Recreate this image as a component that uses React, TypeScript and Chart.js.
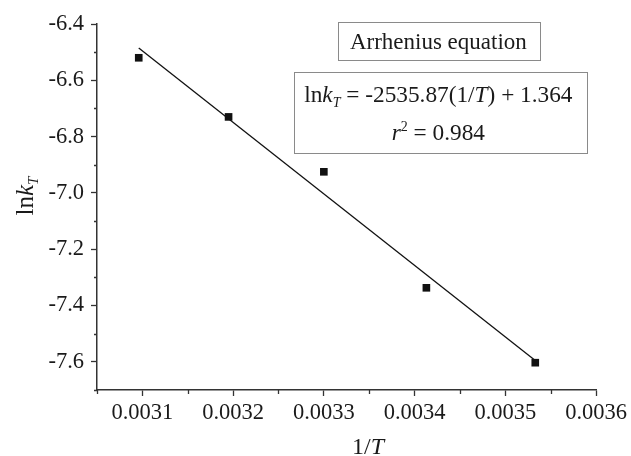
import React, { useEffect, useRef } from "react";
import { Chart, registerables } from "chart.js";

Chart.register(...registerables);

// ---- data ----
const invT: number[] = [0.003096, 0.003195, 0.0033, 0.003413, 0.003533];
const lnK: number[] = [-6.52, -6.73, -6.925, -7.337, -7.603];
const fitX: number[] = [0.003096, 0.003533];
const fitY: number[] = [-6.485, -7.595];

const xMajorTicks: number[] = [0.0031, 0.0032, 0.0033, 0.0034, 0.0035, 0.0036];
const xMinorTicks: number[] = [0.00305, 0.00315, 0.00325, 0.00335, 0.00345, 0.00355];
const yMajorTicks: number[] = [-6.4, -6.6, -6.8, -7.0, -7.2, -7.4, -7.6];
const yMinorTicks: number[] = [-6.5, -6.7, -6.9, -7.1, -7.3, -7.5, -7.7];

const X_MIN = 0.00305;
const X_MAX = 0.0036;
const Y_MIN = -7.7;
const Y_MAX = -6.4;

const FONT = "'Liberation Serif', 'Times New Roman', serif";
const INK = "#1a1a1a";

type Seg = { t: string; italic?: boolean; size?: number; dy?: number };

function segFont(s: Seg, base: number) {
  return `${s.italic ? "italic " : ""}${s.size ?? base}px ${FONT}`;
}

function drawRich(ctx: CanvasRenderingContext2D, segs: Seg[], cx: number, y: number, base: number) {
  let total = 0;
  for (const s of segs) {
    ctx.font = segFont(s, base);
    total += ctx.measureText(s.t).width;
  }
  let x = cx - total / 2;
  ctx.textAlign = "left";
  ctx.textBaseline = "alphabetic";
  for (const s of segs) {
    ctx.font = segFont(s, base);
    ctx.fillText(s.t, x, y + (s.dy ?? 0));
    x += ctx.measureText(s.t).width;
  }
}

const decorPlugin = {
  id: "decor",
  afterDraw(chart: any) {
    const ctx: CanvasRenderingContext2D = chart.ctx;
    const xs = chart.scales.x;
    const ys = chart.scales.y;
    const area = chart.chartArea;
    ctx.save();
    // minor ticks
    ctx.strokeStyle = "#333";
    ctx.lineWidth = 1.3;
    ctx.beginPath();
    for (const v of xMinorTicks) {
      const px = Math.round(xs.getPixelForValue(v)) + 0.5;
      ctx.moveTo(px, area.bottom);
      ctx.lineTo(px, area.bottom + 4);
    }
    for (const v of yMinorTicks) {
      const py = Math.round(ys.getPixelForValue(v)) + 0.5;
      ctx.moveTo(area.left, py);
      ctx.lineTo(area.left - 3, py);
    }
    ctx.stroke();

    ctx.fillStyle = INK;
    // y axis title
    ctx.save();
    ctx.translate(25, 196);
    ctx.rotate(-Math.PI / 2);
    drawRich(
      ctx,
      [
        { t: "ln" },
        { t: "k", italic: true },
        { t: "T", italic: true, size: 15, dy: 5 },
      ],
      0,
      8,
      25
    );
    ctx.restore();

    // x axis title
    drawRich(ctx, [{ t: "1/" }, { t: "T", italic: true }], 368, 454, 24);

    // annotation boxes
    const cx = area.left + (area.right - area.left) * 0.684;
    ctx.strokeStyle = "#8a8a8a";
    ctx.lineWidth = 1;
    ctx.strokeRect(338.5, 22.5, 202, 38);
    ctx.strokeRect(294.5, 72.5, 293, 81);
    ctx.fillStyle = INK;
    drawRich(ctx, [{ t: "Arrhenius equation" }], cx, 49, 23);
    drawRich(
      ctx,
      [
        { t: "ln" },
        { t: "k", italic: true },
        { t: "T", italic: true, size: 14, dy: 5 },
        { t: " = -2535.87(1/" },
        { t: "T", italic: true },
        { t: ") + 1.364" },
      ],
      cx,
      102,
      23.3
    );
    drawRich(
      ctx,
      [
        { t: "r", italic: true },
        { t: "2", size: 14, dy: -9 },
        { t: " = 0.984" },
      ],
      cx,
      140,
      23.3
    );
    ctx.restore();
  },
};

export default function App() {
  const ref = useRef<HTMLCanvasElement | null>(null);

  useEffect(() => {
    if (!ref.current) return;
    const chart = new Chart(ref.current, {
      type: "scatter",
      data: {
        datasets: [
          {
            label: "data",
            data: invT.map((x, i) => ({ x, y: lnK[i] })),
            pointStyle: "rect",
            pointRadius: 5.4,
            pointBackgroundColor: "#111",
            pointBorderWidth: 0,
            showLine: false,
          },
          {
            label: "fit",
            data: fitX.map((x, i) => ({ x, y: fitY[i] })),
            showLine: true,
            pointRadius: 0,
            borderColor: "#111",
            borderWidth: 1.3,
            fill: false,
          },
        ],
      },
      options: {
        responsive: false,
        animation: false,
        layout: { padding: { top: 24, right: 33, left: 0, bottom: 0 } },
        plugins: {
          legend: { display: false },
          tooltip: { enabled: false },
        },
        scales: {
          x: {
            type: "linear",
            min: X_MIN,
            max: X_MAX,
            afterBuildTicks: (s: any) => {
              s.ticks = xMajorTicks.map((v) => ({ value: v }));
            },
            afterFit: (s: any) => {
              s.height = 66;
            },
            border: { display: true, color: "#333", width: 1.5 },
            grid: {
              display: true,
              drawOnChartArea: false,
              drawTicks: true,
              tickLength: 6,
              tickColor: "#333",
              tickWidth: 1.3,
            },
            ticks: {
              color: INK,
              font: { family: FONT, size: 22.5 },
              padding: 4,
              maxRotation: 0,
              autoSkip: false,
              callback: (v: any) => Number(v).toFixed(4),
            },
          },
          y: {
            type: "linear",
            min: Y_MIN,
            max: Y_MAX,
            afterBuildTicks: (s: any) => {
              s.ticks = yMajorTicks.map((v) => ({ value: v }));
            },
            afterFit: (s: any) => {
              s.width = 97;
            },
            border: { display: true, color: "#333", width: 1.5 },
            grid: {
              display: true,
              drawOnChartArea: false,
              drawTicks: true,
              tickLength: 6,
              tickColor: "#333",
              tickWidth: 1.3,
            },
            ticks: {
              color: INK,
              font: { family: FONT, size: 22.5 },
              padding: 7,
              autoSkip: false,
              callback: (v: any) => Number(v).toFixed(1),
            },
          },
        },
      },
      plugins: [decorPlugin],
    });
    return () => chart.destroy();
  }, []);

  return (
    <div style={{ position: "fixed", left: 0, top: 0, width: 631, height: 456, background: "#fff" }}>
      <canvas ref={ref} width={631} height={456} />
    </div>
  );
}
